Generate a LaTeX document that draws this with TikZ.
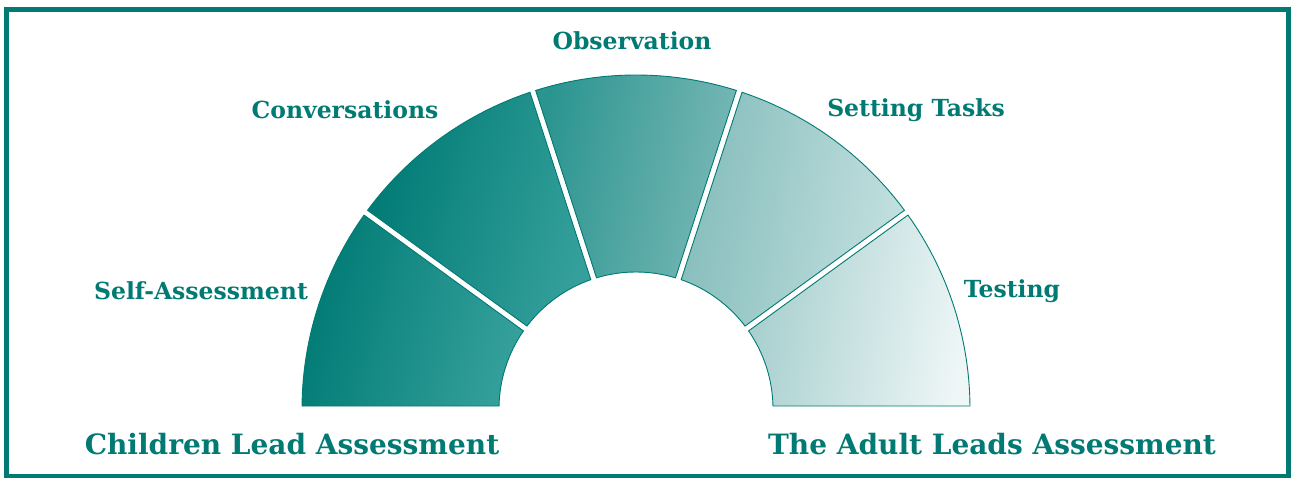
\documentclass[tikz,border=0pt]{standalone}
\usepackage{fontspec}
\setmainfont{DejaVu Serif}
\definecolor{teal1}{HTML}{007A73}
\definecolor{ca}{HTML}{007A74}
\definecolor{cb}{HTML}{008F89}
\definecolor{cc}{HTML}{35A09B}
\definecolor{d1}{HTML}{2A948F}
\definecolor{d2}{HTML}{7AB9B7}
\definecolor{e1}{HTML}{84BDBB}
\definecolor{e2}{HTML}{C4E0E0}
\definecolor{f1}{HTML}{A6CFCE}
\definecolor{f2}{HTML}{EEF6F6}
\tikzset{
  lbl/.style={text=teal1, font=\bfseries\fontsize{23.5}{28}\selectfont, inner sep=0pt},
  big/.style={text=teal1, font=\bfseries\fontsize{28}{32}\selectfont, inner sep=0pt},
  seg/.style={draw=teal1, line width=0.9pt}
}
\newcommand{\segpath}[2]{% start angle, end angle (degrees)
  ([shift={(#2-0.51:334)}]C) arc[start angle=#2-0.51, end angle=#1+0.51, radius=334]
  -- ([shift={(#1+1.25:137)}]C) arc[start angle=#1+1.25, end angle=#2-1.25, radius=137] -- cycle}
\begin{document}
\begin{tikzpicture}[x=1pt,y=1pt]
\useasboundingbox (0,0) rectangle (1292,478);
\draw[teal1, line width=4.5pt] (6.5,1.5) rectangle (1288.5,468.5);
\coordinate (C) at (636,69);
\path[seg, left color=ca, middle color=cb, right color=cc, shading angle=75] \segpath{144}{180};
\path[seg, left color=ca, middle color=cb, right color=cc, shading angle=75] \segpath{108}{144};
\path[seg, left color=d1, right color=d2, shading angle=80] \segpath{72}{108};
\path[seg, left color=e1, right color=e2, shading angle=80] \segpath{36}{72};
\path[seg, left color=f1, right color=f2, shading angle=80] \segpath{0}{36};
\node[lbl] (sa) at (201,187) {Self-Assessment};
\node[lbl] (cv) at (345,368) {Conversations};
\node[lbl] (ob) at (632,437) {Observation};
\node[lbl] (st) at (916,368) {Setting Tasks};
\node[lbl] (te) at (1012,187) {Testing};
\node[big] (cl) at (292,34) {Children Lead Assessment};
\node[big] (al) at (992,34) {The Adult Leads Assessment};
\end{tikzpicture}
\end{document}
